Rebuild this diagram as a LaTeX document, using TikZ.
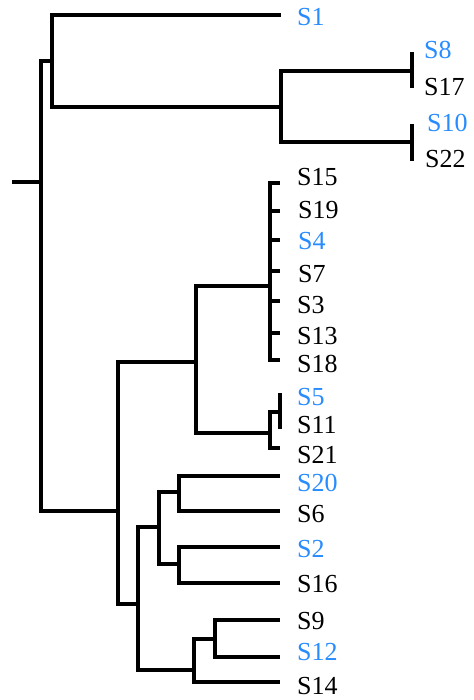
\documentclass[tikz,border=0pt]{standalone}
\usepackage{fontspec}
\setmainfont{Liberation Serif}
\usepackage{xcolor}
\usepackage{tikz}
\definecolor{leafblue}{RGB}{40,140,255}
\tikzset{
    branch/.style={line width=3.2pt, line join=miter},
    lab/.style={anchor=base west, inner sep=0pt, font=\fontsize{26}{30}\selectfont},
    blab/.style={lab, text=leafblue}
}

\begin{document}
\begin{tikzpicture}[x=1pt,y=-1pt]
    \useasboundingbox (0,0) rectangle (473,700);
    % internal junctions
    \coordinate (stub) at (12,182);
    \coordinate (root) at (41,182);
    \coordinate (nA) at (52,61);
    \coordinate (nB) at (281,107);
    \coordinate (nC) at (412,71);
    \coordinate (nD) at (412,142);
    \coordinate (nE) at (118,511);
    \coordinate (nF) at (196,362);
    \coordinate (nG) at (270,286);
    \coordinate (nH) at (270,433);
    \coordinate (nI) at (280,412);
    \coordinate (nJ) at (138,604);
    \coordinate (nK) at (159,527);
    \coordinate (nL) at (179,492);
    \coordinate (nM) at (179,564);
    \coordinate (nN) at (194,670);
    \coordinate (nO) at (215,639);
    % leaf tips
    \coordinate (t1) at (281,15);
    \coordinate (t8) at (412,52);
    \coordinate (t17) at (412,88);
    \coordinate (t10) at (412,124);
    \coordinate (t22) at (412,161);
    \coordinate (t15) at (280,183);
    \coordinate (t19) at (280,211);
    \coordinate (t4) at (280,240);
    \coordinate (t7) at (280,271);
    \coordinate (t3) at (280,301);
    \coordinate (t13) at (280,333);
    \coordinate (t18) at (280,360);
    \coordinate (t5) at (280,393);
    \coordinate (t11) at (280,429);
    \coordinate (t21) at (280,448);
    \coordinate (t20) at (280,476);
    \coordinate (t6) at (280,511);
    \coordinate (t2) at (280,547);
    \coordinate (t16) at (280,583);
    \coordinate (t9) at (280,620);
    \coordinate (t12) at (280,657);
    \coordinate (t14) at (280,682);
    % labels
    \node[blab] (s1) at (297,26) {S1};
    \node[blab] (s8) at (424,59) {S8};
    \node[lab] (s17) at (424,96) {S17};
    \node[blab] (s10) at (427,132) {S10};
    \node[lab] (s22) at (425,168) {S22};
    \node[lab] (s15) at (297,186) {S15};
    \node[lab] (s19) at (298,219) {S19};
    \node[blab] (s4) at (298,250) {S4};
    \node[lab] (s7) at (298,282) {S7};
    \node[lab] (s3) at (297,313) {S3};
    \node[lab] (s13) at (297,344) {S13};
    \node[lab] (s18) at (297,372) {S18};
    \node[blab] (s5) at (297,405) {S5};
    \node[lab] (s11) at (297,433) {S11};
    \node[lab] (s21) at (297,463) {S21};
    \node[blab] (s20) at (297,491) {S20};
    \node[lab] (s6) at (297,522) {S6};
    \node[blab] (s2) at (297,557) {S2};
    \node[lab] (s16) at (297,592) {S16};
    \node[lab] (s9) at (297,629) {S9};
    \node[blab] (s12) at (297,660) {S12};
    \node[lab] (s14) at (297,694) {S14};
    % branches
    \draw[branch] (stub) -- (root);
    \draw[branch] (root) |- (nA);
    \draw[branch] (root) |- (nE);
    \draw[branch] (nA) |- (t1);
    \draw[branch] (nA) |- (nB);
    \draw[branch] (nB) |- (nC);
    \draw[branch] (nB) |- (nD);
    \draw[branch] (nC) -- (t8);
    \draw[branch] (nC) -- (t17);
    \draw[branch] (nD) -- (t10);
    \draw[branch] (nD) -- (t22);
    \draw[branch] (nE) |- (nF);
    \draw[branch] (nE) |- (nJ);
    \draw[branch] (nF) |- (nG);
    \draw[branch] (nF) |- (nH);
    \draw[branch] (nG) |- (t15);
    \draw[branch] (nG) |- (t19);
    \draw[branch] (nG) |- (t4);
    \draw[branch] (nG) |- (t7);
    \draw[branch] (nG) |- (t3);
    \draw[branch] (nG) |- (t13);
    \draw[branch] (nG) |- (t18);
    \draw[branch] (nH) |- (nI);
    \draw[branch] (nH) |- (t21);
    \draw[branch] (nI) -- (t5);
    \draw[branch] (nI) -- (t11);
    \draw[branch] (nJ) |- (nK);
    \draw[branch] (nJ) |- (nN);
    \draw[branch] (nK) |- (nL);
    \draw[branch] (nK) |- (nM);
    \draw[branch] (nL) |- (t20);
    \draw[branch] (nL) |- (t6);
    \draw[branch] (nM) |- (t2);
    \draw[branch] (nM) |- (t16);
    \draw[branch] (nN) |- (nO);
    \draw[branch] (nN) |- (t14);
    \draw[branch] (nO) |- (t9);
    \draw[branch] (nO) |- (t12);
\end{tikzpicture}
\end{document}
